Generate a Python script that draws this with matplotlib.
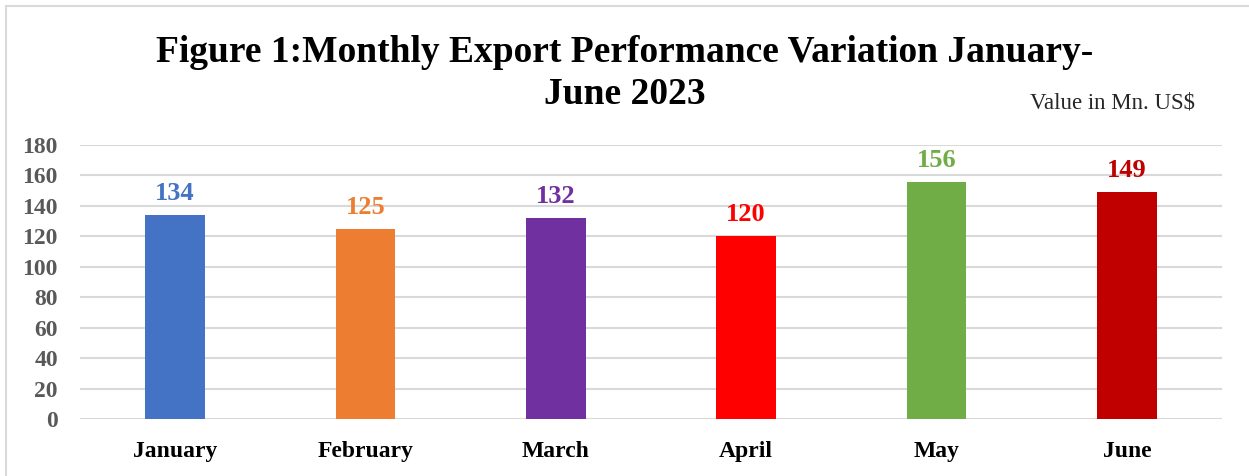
import matplotlib.pyplot as plt
from matplotlib.patches import Rectangle

months = ['January', 'February', 'March', 'April', 'May', 'June']
exports = [134, 125, 132, 120, 156, 149]
colors = ['#4472C4', '#ED7D31', '#7030A0', '#FF0000', '#70AD47', '#C00000']
y_ticks = [0, 20, 40, 60, 80, 100, 120, 140, 160, 180]

plt.rcParams['font.family'] = ['Liberation Serif', 'DejaVu Serif']

fig = plt.figure(figsize=(12.49, 4.76), dpi=100)
ax = fig.add_axes([80 / 1249, 1 - 419 / 476, 1142 / 1249, 274 / 476])

x = list(range(len(months)))
ax.bar(x, exports, width=0.315, color=colors, zorder=2)
for xi, v, c in zip(x, exports, colors):
    ax.text(xi, v + 6.5, str(v), ha='center', va='bottom', color=c,
            fontsize=19, fontweight='bold')

ax.set_xlim(-0.5, len(months) - 0.5)
ax.set_ylim(0, 180)
ax.set_yticks(y_ticks)
ax.set_yticklabels([str(t) for t in y_ticks], color='#595959',
                   fontsize=17, fontweight='bold')
ax.set_xticks(x)
ax.set_xticklabels(months, fontsize=17, fontweight='bold', color='black')
ax.tick_params(axis='both', length=0)
ax.tick_params(axis='y', pad=16)
ax.tick_params(axis='x', pad=16)
ax.grid(axis='y', color='#D9D9D9', linewidth=1.5, zorder=0)
for s in ax.spines.values():
    s.set_visible(False)

# chart frame
fig.patches.append(Rectangle((6 / 1249, -0.1), 1.2, 1 - 6 / 476 + 0.1,
                             transform=fig.transFigure, fill=False,
                             edgecolor='#D9D9D9', linewidth=1.5))

fig.text(625 / 1249, 1 - 52 / 476, 'Figure 1:Monthly Export Performance Variation January-',
         ha='center', va='center', fontsize=27, fontweight='bold')
fig.text(625 / 1249, 1 - 94 / 476, 'June 2023',
         ha='center', va='center', fontsize=27, fontweight='bold')
fig.text(1195 / 1249, 1 - 103 / 476, 'Value in Mn. US$',
         ha='right', va='center', fontsize=16.5, color='#262626')

fig.savefig('out.png', dpi=100)
